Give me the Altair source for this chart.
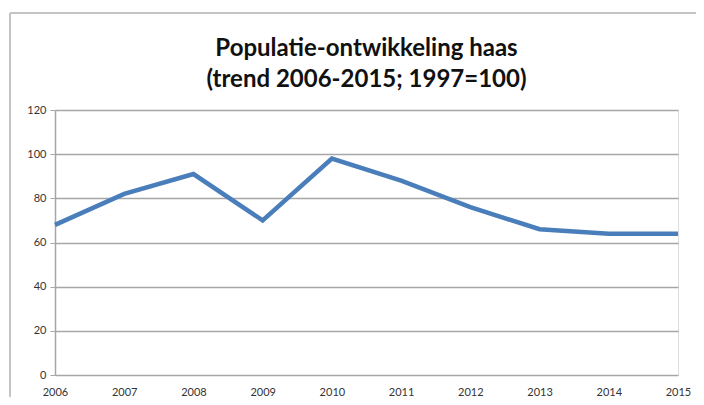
import altair as alt
import pandas as pd

years = ["2006", "2007", "2008", "2009", "2010", "2011", "2012", "2013", "2014", "2015"]
index_values = [68, 82, 91, 70, 98, 88, 76, 66, 64, 64]

df = pd.DataFrame({"jaar": years, "index": index_values})

title = alt.TitleParams(
    text=["Populatie-ontwikkeling haas", "(trend 2006-2015; 1997=100)"],
    font="Lato",
    fontSize=24,
    fontWeight="bold",
    color="#111111",
    anchor="middle",
    lineHeight=31,
    offset=-80,
)

line = alt.Chart(df).mark_line(color="#4a7ebb", strokeWidth=4.5).encode(
    x=alt.X("jaar:O", sort=years, scale=alt.Scale(type="point", padding=0),
            axis=alt.Axis(title=None, labelAngle=0, labelFont="Lato", labelFontSize=11,
                          labelColor="#333333", domain=False, ticks=False, labelPadding=11,
                          grid=False)),
    y=alt.Y("index:Q", scale=alt.Scale(domain=[0, 120]),
            axis=alt.Axis(title=None, values=[0, 20, 40, 60, 80, 100, 120],
                          labelFont="Lato", labelFontSize=11, labelColor="#333333",
                          gridColor="#a6a6a6", gridWidth=1.5, domainColor="#a6a6a6",
                          domainWidth=1.5, tickColor="#a6a6a6", tickSize=5, labelPadding=4)),
)

# chart frame (decoration, as in the original spreadsheet chart)
frame_top = alt.Chart(df).mark_rule(color="#c4c4c4", strokeWidth=2).encode(
    x=alt.value(-45), x2=alt.value(641), y=alt.value(-97)
)
frame_left = alt.Chart(df).mark_rule(color="#c4c4c4", strokeWidth=2).encode(
    x=alt.value(-45), y=alt.value(-97), y2=alt.value(300)
)

chart = alt.layer(frame_top, frame_left, line).properties(
    width=623, height=265, title=title,
    autosize=alt.AutoSizeParams(type="none"),
    padding={"left": 47, "top": 102, "right": 18, "bottom": 22},
).configure_view(stroke=None).configure(background="white")

chart.save("out.html", embed_options={"renderer": "svg", "actions": False})
